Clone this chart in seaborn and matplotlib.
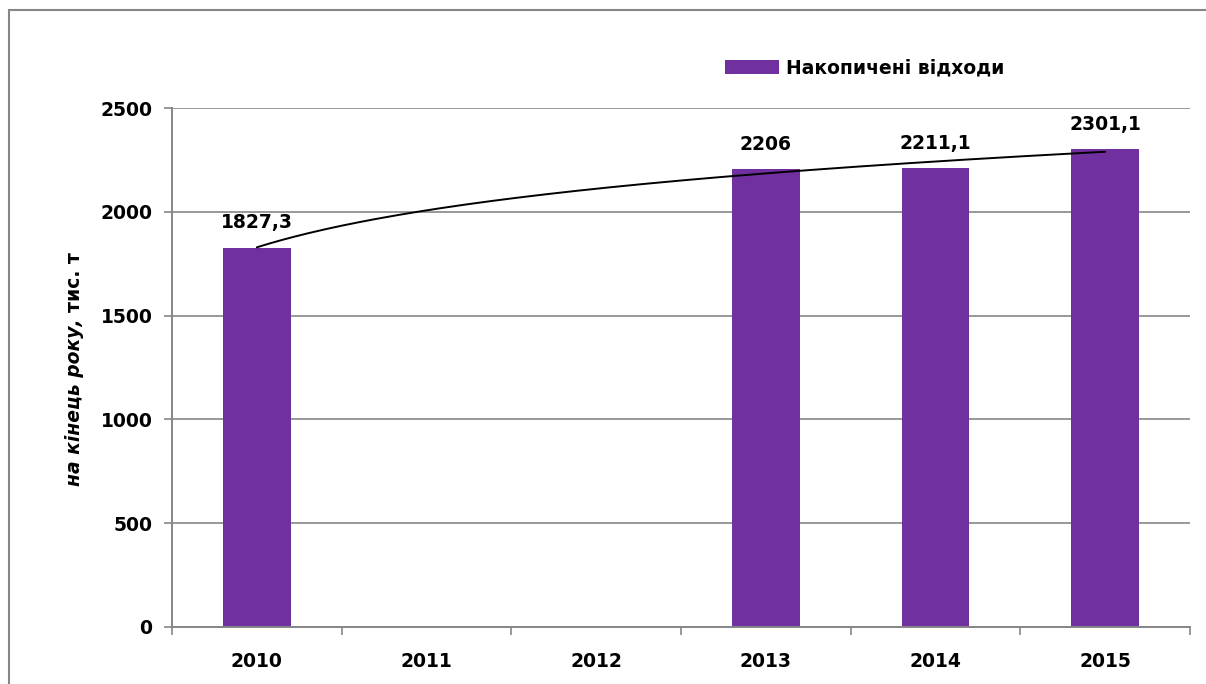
import numpy as np
import pandas as pd
import matplotlib
matplotlib.use("Agg")
import matplotlib.pyplot as plt
from matplotlib.patches import Patch, Rectangle
import seaborn as sns

# Data
years = ["2010", "2011", "2012", "2013", "2014", "2015"]
waste = [1827.3, np.nan, np.nan, 2206, 2211.1, 2301.1]
value_labels = ["1827,3", "", "", "2206", "2211,1", "2301,1"]
y_ticks = [0, 500, 1000, 1500, 2000, 2500]

bar_color = "#7030A0"
grid_color = "#868686"
fs = 13.5

sns.set_theme(style="white")
plt.rcParams["font.family"] = ["DejaVu Sans"]
plt.rcParams["font.weight"] = "bold"
plt.rcParams["text.color"] = "black"
plt.rcParams["xtick.color"] = "black"
plt.rcParams["ytick.color"] = "black"

df = pd.DataFrame({"year": years, "waste": waste})

fig = plt.figure(figsize=(12.06, 6.84), dpi=100)
ax = fig.add_axes([172 / 1206, 1 - 627 / 684, (1190 - 172) / 1206, (627 - 108) / 684])

sns.barplot(data=df, x="year", y="waste", order=years, color=bar_color,
            saturation=1, width=0.4, ax=ax, errorbar=None, linewidth=0)

# log trendline (Excel style) fitted on the available points
pos = np.arange(1, len(years) + 1)
vals = np.array(waste, dtype=float)
ok = ~np.isnan(vals)
b, a = np.polyfit(np.log(pos[ok]), vals[ok], 1)
xs = np.linspace(1, len(years), 200)
ax.plot(xs - 1, a + b * np.log(xs), color="black", lw=1.4, zorder=4)

# value labels
for i, (v, lab) in enumerate(zip(waste, value_labels)):
    if lab:
        ax.annotate(lab, (i, v), xytext=(0, 11), textcoords="offset points",
                    ha="center", va="bottom", fontsize=fs, fontweight="bold",
                    color="black")

ax.set_ylim(0, 2500)
ax.set_xlim(-0.5, len(years) - 0.5)
ax.set_yticks(y_ticks)
ax.set_yticklabels([str(t) for t in y_ticks], fontsize=fs, fontweight="bold")
ax.set_xticks(range(len(years)))
ax.set_xticklabels(years, fontsize=fs, fontweight="bold")
ax.set_xticks(np.arange(-0.5, len(years)), minor=True)
ax.tick_params(axis="x", which="major", length=0, pad=18, bottom=True)
ax.tick_params(axis="x", which="minor", length=6, width=1.2, color=grid_color,
               direction="out", bottom=True)
ax.tick_params(axis="y", length=6, width=1.2, color=grid_color, direction="out",
               pad=8, left=True, labelcolor="black")
ax.tick_params(axis="x", labelcolor="black")
ax.set_xlabel("")
ax.set_ylabel("")

ax.yaxis.grid(True, color=grid_color, lw=1.2)
ax.set_axisbelow(True)
for s in ["top", "right"]:
    ax.spines[s].set_visible(False)
for s in ["left", "bottom"]:
    ax.spines[s].set_color(grid_color)
    ax.spines[s].set_linewidth(1.4)

# y label: italic part + upright part
fig.text(75 / 1206, 1 - 318 / 684, "на кінець року,", rotation=90, ha="center", va="top",
         fontsize=fs, fontweight="bold", fontstyle="italic", color="black")
fig.text(75 / 1206, 1 - 312 / 684, "тис. т", rotation=90, ha="center", va="bottom",
         fontsize=fs, fontweight="bold", color="black")

# legend
handle = Patch(facecolor=bar_color, edgecolor="none")
fig.legend([handle], ["Накопичені відходи"], loc="center left",
           bbox_to_anchor=(708 / 1206, 1 - 68 / 684), frameon=False,
           prop={"size": fs, "weight": "bold"}, handlelength=2.9, handleheight=0.8,
           handletextpad=0.35, labelcolor="black")

# outer chart frame
fig.patches.append(Rectangle((9 / 1206, -0.1), 1.2, 1 - 10 / 684 + 0.1,
                             transform=fig.transFigure, fill=False,
                             edgecolor=grid_color, lw=1.5))

fig.savefig("out.png", dpi=100)
